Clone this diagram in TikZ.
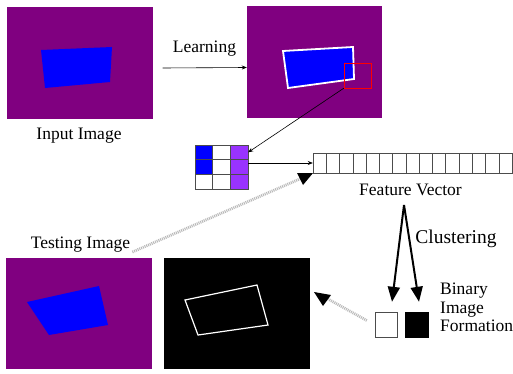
\documentclass[tikz,border=0pt]{standalone}
\usepackage{fontspec}
\setmainfont{Liberation Serif}
\usetikzlibrary{arrows.meta}

\definecolor{bgpurple}{RGB}{128,0,128}
\definecolor{objblue}{RGB}{0,0,255}
\definecolor{cellviolet}{RGB}{153,51,255}

\begin{document}
\begin{tikzpicture}[x=1pt,y=-1pt,
		label text/.style={font=\rmfamily\fontsize{17.5}{18.5}\selectfont,inner sep=0pt},
		image box/.style={rectangle,inner sep=0pt,minimum width=146pt,minimum height=112pt},
		cell/.style={rectangle,draw=black!70,thin,inner sep=0pt,minimum width=17.67pt,minimum height=14.67pt},
		vcell/.style={rectangle,draw=black!70,thin,inner sep=0pt,minimum width=13.27pt,minimum height=20pt},
		thin arrow/.style={-{Stealth[length=5pt,width=4pt]},black,semithick},
		fat arrow/.style={-{Triangle[length=15pt,width=12pt]},line width=2pt},
		hatch line/.style={gray!55,line width=2.8pt,dash pattern=on 1pt off 0.9pt}]

		\useasboundingbox (0,0) rectangle (513,374);

		% learning row
		\node[image box, fill=bgpurple] (input) at (79.5,63) {};
		\fill[objblue] (41,50) -- (112,47) -- (110,82) -- (45,88) -- cycle;
		\node[label text, anchor=base] (inlabel) at (79,140) {Input Image};

		\node[image box, fill=bgpurple, minimum width=135pt] (trained) at (314.5,62.5) {};
		\filldraw[fill=objblue, draw=white, line width=1.8pt] (283,51) -- (353,47) -- (354,79) -- (288,88) -- cycle;
		\node[rectangle, draw=red, thin, inner sep=0pt, minimum width=27pt, minimum height=25pt] (patch) at (357.5,75.5) {};

		\node[label text, anchor=base] (learnlabel) at (204.5,53) {Learning};
		\draw[thin arrow] ([xshift=10pt,yshift=-5pt]input.east) -- ([yshift=-5pt]trained.west);

		% patch grid
		\foreach \r/\c/\col in {0/0/objblue,1/0/objblue,2/0/white,
				0/1/white,1/1/white,2/1/white,
				0/2/cellviolet,1/2/cellviolet,2/2/cellviolet}
			\node[cell, fill=\col] (cell-\r-\c) at (203.8+17.67*\c,152.3+14.67*\r) {};
		\draw[thin arrow] (patch.south west) -- (cell-0-2.east);

		% feature vector
		\foreach \i in {0,...,14}
			\node[vcell] (vec-\i) at (319.6+13.27*\i,163) {};
		\draw[thin arrow] (cell-0-2.east |- vec-0.west) -- (vec-0.west);
		\node[label text, anchor=base] (fvlabel) at (410.5,195) {Feature Vector};

		% clustering
		\coordinate (split) at (404,205);
		\node[rectangle, draw=black!70, fill=white, inner sep=0pt, minimum width=22pt, minimum height=25pt] (zero) at (386,324.5) {};
		\node[rectangle, draw=black, fill=black, inner sep=0pt, minimum width=23pt, minimum height=25pt] (one) at (416.5,324.5) {};
		\draw[fat arrow] (split) -- ([xshift=6pt,yshift=10pt]zero.north);
		\draw[fat arrow] (split) -- ([xshift=2.5pt,yshift=10pt]one.north);
		\node[label text, anchor=base, font=\rmfamily\fontsize{19.5}{20}\selectfont] (clustlabel) at (456,243) {Clustering};
		\node[label text, anchor=north west, align=left] (binlabel) at (440,283) {Binary\\Image\\Formation};

		% testing row
		\node[label text, anchor=base] (testlabel) at (80.5,248) {Testing Image};
		\node[image box, fill=bgpurple, minimum height=111pt] (testing) at (79,313.5) {};
		\fill[objblue] (27,302) -- (99,286) -- (108,325) -- (49,335) -- cycle;

		\node[image box, fill=black, minimum height=111pt] (result) at (237,313.5) {};
		\draw[white, line width=1.2pt] (185,300) -- (257,285) -- (268,325) -- (198,335) -- cycle;

		% dotted arrows
		\coordinate (fvtip) at (302,178);
		\draw[hatch line] ([xshift=2pt,yshift=-4pt]testlabel.base east) -- (fvtip);
		\fill (297,173) -- (313,173) -- (303,185) -- cycle;

		\coordinate (restip) at (328,299);
		\draw[hatch line] ([xshift=-8pt,yshift=4pt]zero.west) -- (restip);
		\fill (314,292) -- (331,295) -- (323,306) -- cycle;
\end{tikzpicture}
\end{document}
